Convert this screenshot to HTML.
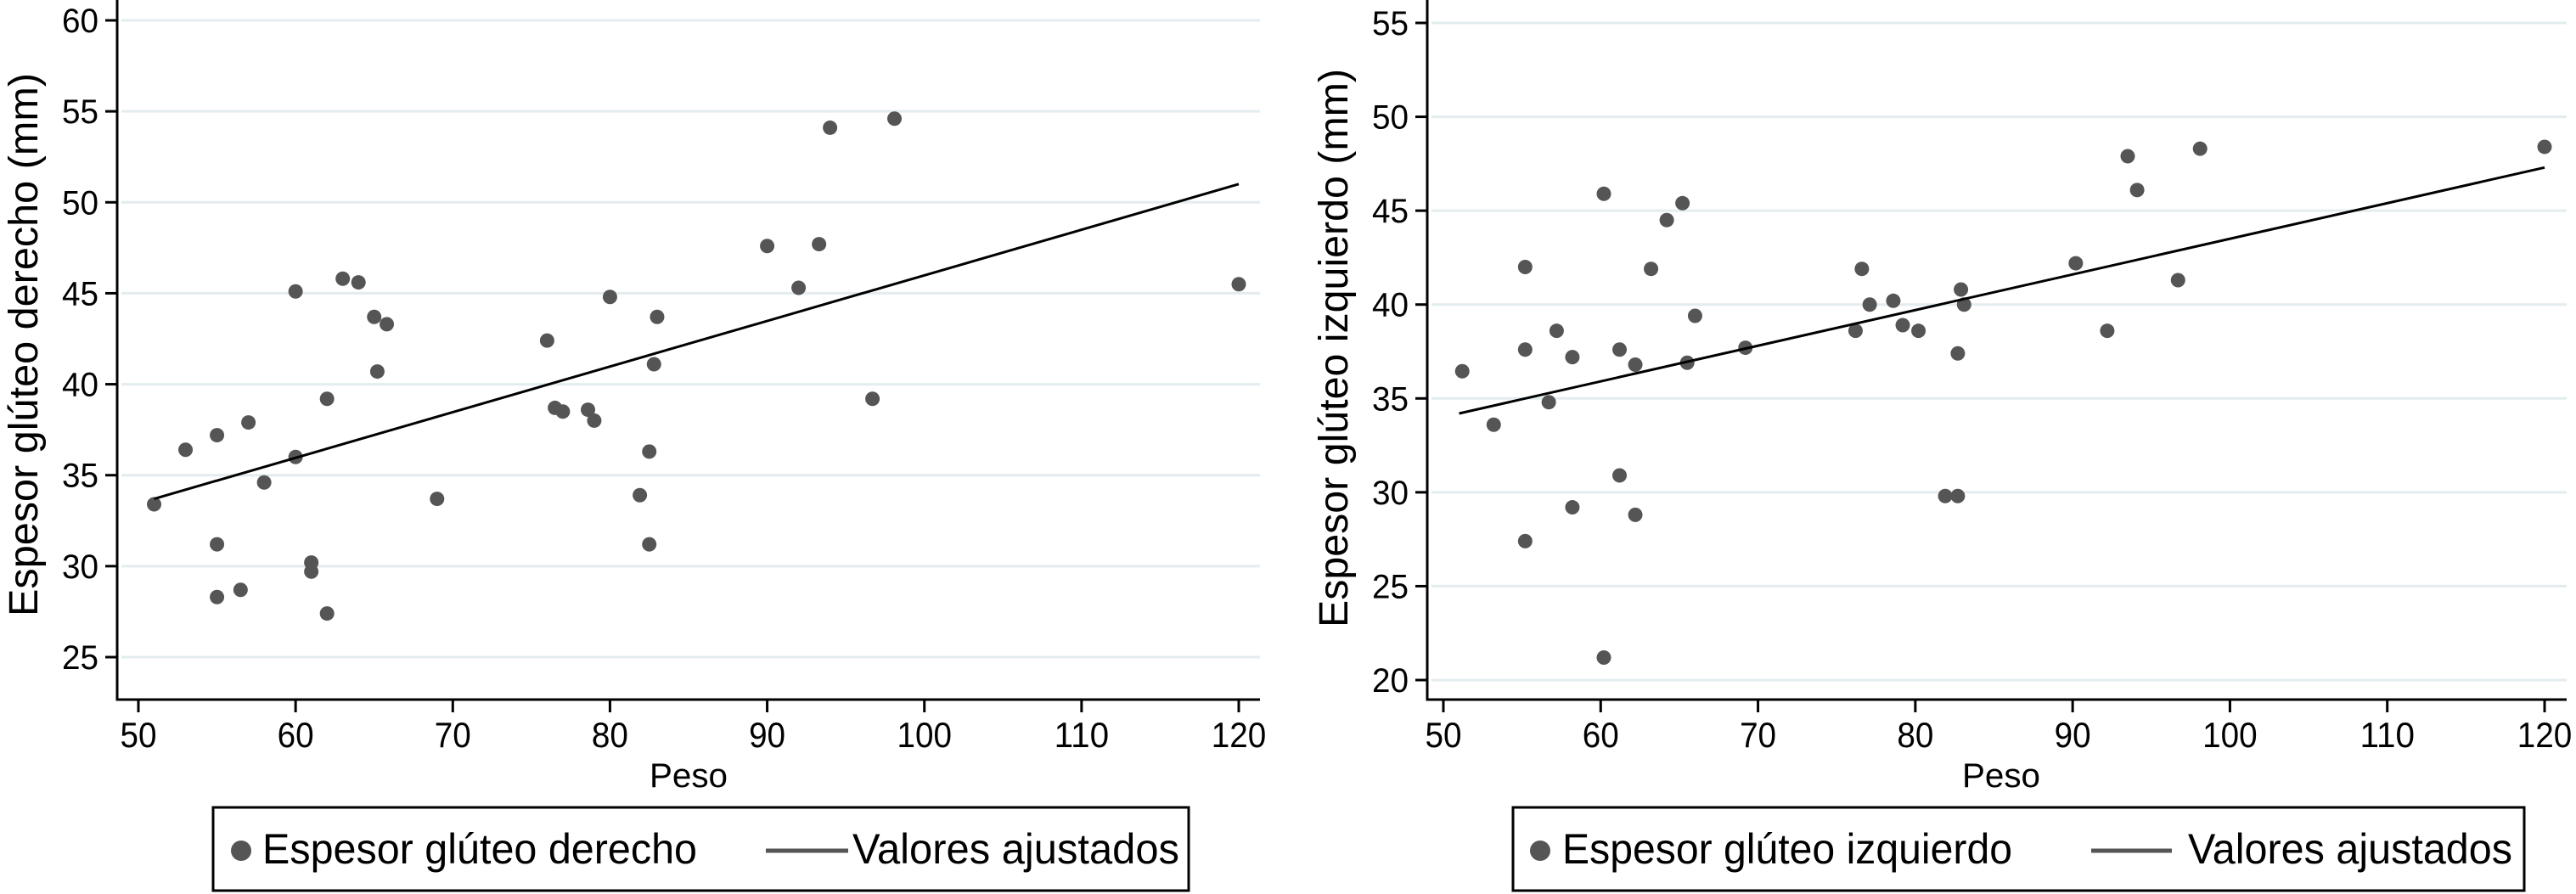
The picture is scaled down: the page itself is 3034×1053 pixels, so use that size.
<!DOCTYPE html>
<html><head><meta charset="utf-8"><style>
html,body{margin:0;padding:0;background:#fff}
svg{display:block}
text{font-family:"Liberation Sans Narrow","Liberation Sans",sans-serif;fill:#000}
.title{font-family:"Liberation Sans",sans-serif}
</style></head><body>
<svg id="chart" width="3034" height="1053" viewBox="0 0 3034 1053" xmlns="http://www.w3.org/2000/svg"></svg>
<script>
const xTicks=[50,60,70,80,90,100,110,120];
const yTicksLeft=[25,30,35,40,45,50,55,60];
const yTicksRight=[20,25,30,35,40,45,50,55];
const pesoLeft=[51,53,55,55,55,56.5,57,58,60,60,61,61,62,62,63,64,65,65.8,65.2,69,76,76.5,77,78.6,79,80,81.9,82.5,82.5,82.8,83,90,92,93.3,94,96.7,98.1,120];
const espesorDerecho=[33.4,36.4,37.2,31.2,28.3,28.7,37.9,34.6,45.1,36.0,30.2,29.7,39.2,27.4,45.8,45.6,43.7,43.3,40.7,33.7,42.4,38.7,38.5,38.6,38.0,44.8,33.9,36.3,31.2,41.1,43.7,47.6,45.3,47.7,54.1,39.2,54.6,45.5];
const fitLeft=[[51,33.7],[120,51.0]];
const pesoRight=[51.2,53.2,55.2,55.2,55.2,56.7,57.2,58.2,58.2,60.2,60.2,61.2,61.2,62.2,62.2,63.2,64.2,65.2,65.5,66.0,69.2,76.2,76.6,77.1,78.6,79.2,80.2,81.9,82.7,82.7,82.9,83.1,90.2,92.2,93.5,94.1,96.7,98.1,120];
const espesorIzquierdo=[36.45,33.6,42.0,37.6,27.4,34.8,38.6,37.2,29.2,45.9,21.2,37.6,30.9,36.8,28.8,41.9,44.5,45.4,36.9,39.4,37.7,38.6,41.9,40.0,40.2,38.9,38.6,29.8,29.8,37.4,40.8,40.0,42.2,38.6,47.9,46.1,41.3,48.3,48.4];
const fitRight=[[51,34.2],[120,47.3]];

const NS="http://www.w3.org/2000/svg";
const svg=document.getElementById('chart');
function mk(tag,attrs,parent){const e=document.createElementNS(NS,tag);for(const k in attrs)e.setAttribute(k,attrs[k]);(parent||svg).appendChild(e);return e;}

function panel(cfg){
  const g=mk('g',{});
  
  
  const sx=v=>cfg.x0+(v-50)*(cfg.x1-cfg.x0)/70;
  const sy=v=>cfg.yA+(v-cfg.vA)*(cfg.yB-cfg.yA)/(cfg.vB-cfg.vA);
  cfg.yt.forEach(t=>{
    const l=mk('line',{x1:cfg.ax+5,x2:cfg.gridR,y1:sy(t),y2:sy(t),stroke:'#e3ecef','stroke-width':3},g);
    
    
  });
  const ya=mk('line',{x1:cfg.ax,x2:cfg.ax,y1:0,y2:cfg.axY+1.5,stroke:'#000','stroke-width':3},g);
  
  
  const xa=mk('line',{x1:cfg.ax-1.5,x2:cfg.gridR,y1:cfg.axY,y2:cfg.axY,stroke:'#000','stroke-width':3},g);
  
  
  cfg.yt.forEach(t=>{
    mk('line',{x1:cfg.ax-14,x2:cfg.ax,y1:sy(t),y2:sy(t),stroke:'#000','stroke-width':3},g);
    const tx=mk('text',{x:cfg.ax-22,y:sy(t)+14,'text-anchor':'end','font-size':40,textLength:String(t).length*21.5,lengthAdjust:'spacingAndGlyphs'},g);
    tx.textContent=t;
    
    
  });
  xTicks.forEach(t=>{
    mk('line',{x1:sx(t),x2:sx(t),y1:cfg.axY,y2:cfg.axY+15,stroke:'#000','stroke-width':3},g);
    const tx=mk('text',{x:sx(t),y:880,'text-anchor':'middle','font-size':42,textLength:String(t).length*21.5,lengthAdjust:'spacingAndGlyphs'},g);
    tx.textContent=t;
    
    
  });
  const xt=mk('text',{x:cfg.pesoX,y:927,'text-anchor':'middle','font-size':40,textLength:92,lengthAdjust:'spacingAndGlyphs'},g);
  xt.textContent='Peso';
  
  
  const yt=mk('text',{class:'title',x:0,y:0,'text-anchor':'middle','font-size':48,textLength:cfg.titleLen,lengthAdjust:'spacingAndGlyphs',transform:`translate(${cfg.titleX},${cfg.titleY}) rotate(-90)`},g);
  yt.textContent=cfg.title;
  
  
  cfg.xs.forEach((v,i)=>{
    const c=mk('circle',{cx:sx(v),cy:sy(cfg.ys[i]),r:8.5,fill:'#555'},g);
    
    
  });
  const fl=mk('line',{x1:sx(cfg.fit[0][0]),y1:sy(cfg.fit[0][1]),x2:sx(cfg.fit[1][0]),y2:sy(cfg.fit[1][1]),stroke:'#000','stroke-width':3},g);
  
  
  const lg=mk('g',{},g);
  
  
  mk('rect',{x:cfg.lx0,y:951,width:cfg.lx1-cfg.lx0,height:98,fill:'#fff',stroke:'#000','stroke-width':3},lg);
  const ld=mk('circle',{cx:cfg.dotX,cy:1002,r:12,fill:'#555'},lg);
  
  
  const t1=mk('text',{x:cfg.t1X,y:1017,'font-size':50,textLength:cfg.t1Len,lengthAdjust:'spacingAndGlyphs'},lg);
  t1.textContent=cfg.legend1;
  
  
  const ll=mk('line',{x1:cfg.lnX0,x2:cfg.lnX1,y1:1002,y2:1002,stroke:'#555','stroke-width':5},lg);
  
  
  const t2=mk('text',{x:cfg.t2X,y:1017,'font-size':50,textLength:cfg.t2Len,lengthAdjust:'spacingAndGlyphs'},lg);
  t2.textContent='Valores ajustados';
  
  
}

panel({name:'left-panel',x0:163,x1:1459,ax:138,axY:824,gridR:1484,yA:24,vA:60,yB:774,vB:25,yt:yTicksLeft,
  xs:pesoLeft,ys:espesorDerecho,fit:fitLeft,pesoX:811,title:'Espesor glúteo derecho (mm)',titleX:44,titleY:406,titleLen:640,
  lx0:251,lx1:1400,dotX:284,t1X:309,t1Len:512,lnX0:902,lnX1:999,t2X:1004,t2Len:385,legend1:'Espesor glúteo derecho'});
panel({name:'right-panel',x0:1700,x1:2997,ax:1681,axY:824,gridR:3023,yA:27,vA:55,yB:801,vB:20,yt:yTicksRight,
  xs:pesoRight,ys:espesorIzquierdo,fit:fitRight,pesoX:2357,title:'Espesor glúteo izquierdo (mm)',titleX:1587,titleY:410,titleLen:658,
  lx0:1782,lx1:2973,dotX:1814,t1X:1840,t1Len:530,lnX0:2463,lnX1:2558,t2X:2577,t2Len:382,legend1:'Espesor glúteo izquierdo'});
</script>
</body></html>
